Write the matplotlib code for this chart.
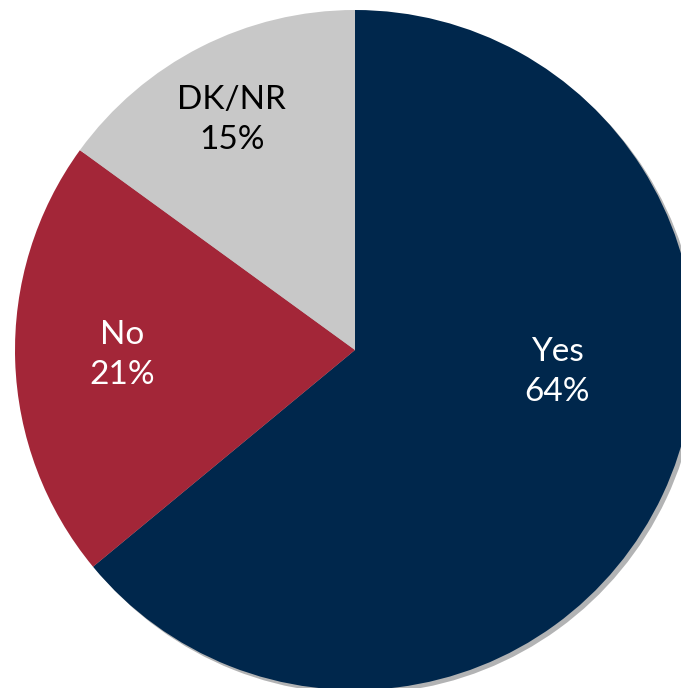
import matplotlib.pyplot as plt

# data
labels = ["Yes", "No", "DK/NR"]
values = [64, 21, 15]
colors = ["#00274C", "#A32638", "#C8C8C8"]
text_colors = ["white", "white", "black"]

# label positions (data units, pie radius = 1)
label_pos = [(0.594, -0.065), (-0.685, -0.015), (-0.362, 0.676)]

fig = plt.figure(figsize=(6.81, 6.88), dpi=100)
ax = fig.add_axes([0, 0, 1, 1])

ax.pie(values, colors=colors, startangle=90, counterclock=False, radius=1,
       shadow={'ox': 0.008, 'oy': -0.008, 'shade': 0.9, 'alpha': 0.3},
       wedgeprops=dict(linewidth=0))

for lab, v, c, (x, y) in zip(labels, values, text_colors, label_pos):
    ax.text(x, y, f"{lab}\n{v}%", ha='center', va='center', color=c,
            fontsize=24, linespacing=1.4, family=['Lato', 'DejaVu Sans'])

# framing: pie center at pixel (355, 350), radius 340 px
px = 340.0
ax.set_xlim(-355 / px, (681 - 355) / px)
ax.set_ylim(-(688 - 350) / px, 350 / px)
ax.set_aspect('auto')
ax.axis('off')

fig.savefig("out.png", dpi=100, facecolor='white')
